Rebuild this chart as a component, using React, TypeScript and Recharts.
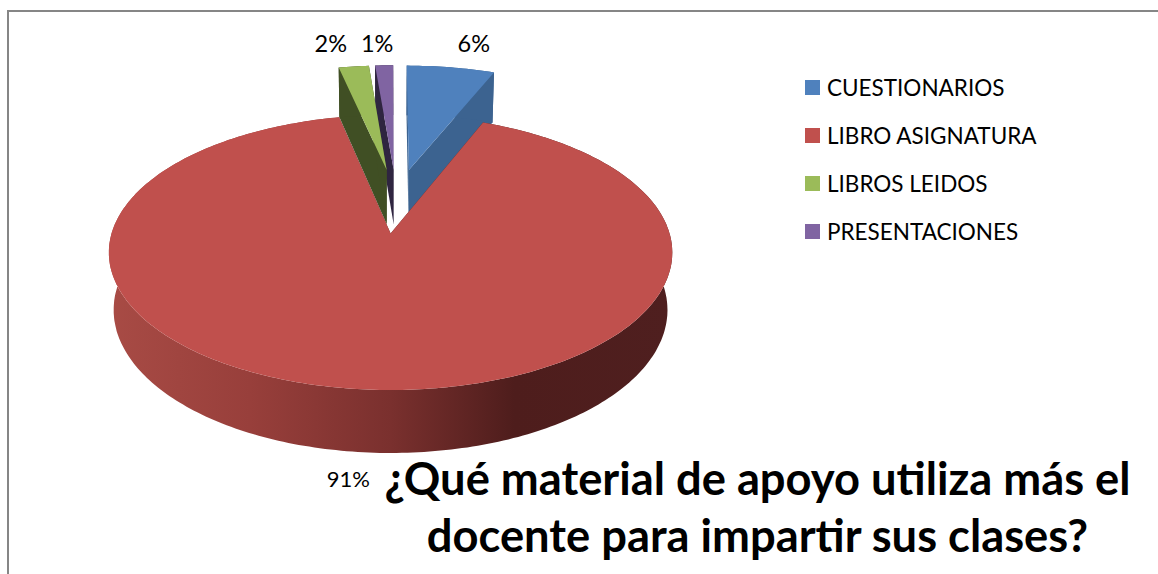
import React from 'react'
import { PieChart, Pie, Legend } from 'recharts'

const categories = ['CUESTIONARIOS', 'LIBRO ASIGNATURA', 'LIBROS LEIDOS', 'PRESENTACIONES']
const shares = [6.1, 90.55, 2.1, 1.25]
const topColors = ['#4f81bd', '#c0504d', '#9bbb59', '#8064a2']
const sideColors = ['#3c6390', 'url(#redWall)', '#404f24', '#2f2540']
const faceColors = ['#3c6390', '#4f1e1d', '#404f24', '#2f2540']
// back to front, so the big slice covers the walls of the pulled out ones
const paintOrder = [0, 3, 2, 1]
const labelOffsets = [
  [23, -24],
  [-15, 26],
  [-23, -23],
  [-7, -22],
]
const titleLines = ['¿Qué material de apoyo utiliza más el', 'docente para impartir sus clases?']

const rows = categories.map((name, i) => ({ name, value: shares[i], fill: topColors[i] }))

const FONT = 'Lato, Carlito, sans-serif'
const EXPLODE = 0.254
const ORIGIN_U = 0.0239
const ORIGIN_V = -0.253
const TILT = 0.4835
const PERSPECTIVE = 0.138
const DEPTH = 58
const DEPTH_SHRINK = 0.017

type Pt = [number, number]

function project(cx: number, cy: number, r: number, u: number, v: number, z = 0): Pt {
  const w = 1 - PERSPECTIVE * v + DEPTH_SHRINK * z
  return [cx + (r * u) / w, cy + (r * TILT * v + DEPTH * z) / w]
}

const toPath = (pts: Pt[]) =>
  'M' + pts.map((p) => `${p[0].toFixed(1)},${p[1].toFixed(1)}`).join('L') + 'Z'

// polar angle from recharts -> unit disc direction
const dir = (deg: number): Pt => [Math.cos((deg * Math.PI) / 180), -Math.sin((deg * Math.PI) / 180)]

function sliceCentre(midAngle: number): Pt {
  const d = dir(midAngle)
  return [ORIGIN_U + EXPLODE * d[0], ORIGIN_V + EXPLODE * d[1]]
}

function makeSlice(only: number) {
  return function Slice(props: any) {
    const { cx, cy, outerRadius, startAngle, endAngle, index } = props
    if (index !== only) return null
    const mid = (startAngle + endAngle) / 2
    const [cu, cv] = sliceCentre(mid)
    const rim: [number, number][] = []
    const steps = Math.max(4, Math.ceil(Math.abs(startAngle - endAngle)))
    for (let s = 0; s <= steps; s++) {
      const a = startAngle + ((endAngle - startAngle) * s) / steps
      const d = dir(a)
      rim.push([cu + d[0], cv + d[1]])
    }
    const p = (c: number[], z = 0) => project(cx, cy, outerRadius, c[0], c[1], z)
    const topRim = rim.map((c) => p(c))
    const lowRim = rim.map((c) => p(c, 1))
    const tip = p([cu, cv])
    const tipLow = p([cu, cv], 1)
    const first = rim[0]
    const last = rim[rim.length - 1]
    return (
      <g>
        <path d={toPath([tip, p(first), p(first, 1), tipLow])} fill={faceColors[index]} />
        <path d={toPath([tip, p(last), p(last, 1), tipLow])} fill={faceColors[index]} />
        <path d={toPath([...topRim, ...lowRim.reverse()])} fill={sideColors[index]} />
        <path d={toPath([tip, ...topRim])} fill={topColors[index]} />
      </g>
    )
  }
}

function renderLabel(props: any) {
  const { cx, cy, outerRadius, midAngle, percent, index } = props
  const [cu, cv] = sliceCentre(midAngle)
  const d = dir(midAngle)
  const z = index === 1 ? 1 : 0
  const [x, y] = project(cx, cy, outerRadius, cu + d[0], cv + d[1], z)
  return (
    <text
      key={index}
      x={x + labelOffsets[index][0]}
      y={y + labelOffsets[index][1]}
      textAnchor="middle"
      dominantBaseline="central"
      fontFamily={FONT}
      fontSize={index === 1 ? 22 : 23.5}
      fill="#000"
    >
      {`${Math.round(percent * 100)}%`}
    </text>
  )
}

// every Pie hands in its rows, keep one entry per category
function LegendList({ payload }: any) {
  const items = categories.map((name) => (payload || []).find((item: any) => item.value === name)).filter(Boolean)
  return (
    <div>
      {items.map((item: any) => (
        <div key={item.value} style={{ height: 48, display: 'flex', alignItems: 'center' }}>
          <span style={{ width: 15, height: 15, background: item.color, marginRight: 7 }} />
          <span style={{ fontFamily: FONT, fontSize: 22.5, color: '#000', whiteSpace: 'nowrap' }}>{item.value}</span>
        </div>
      ))}
    </div>
  )
}

export default function App() {
  return (
    <div style={{ position: 'absolute', left: 0, top: 0, width: 1158, height: 574, background: '#fff', overflow: 'hidden' }}>
      <div style={{ position: 'absolute', left: 7, top: 10, right: -4, bottom: -4, borderTop: '2px solid #868686', borderLeft: '2px solid #868686', boxSizing: 'border-box' }} />
      <PieChart width={1158} height={574} margin={{ top: 0, right: 0, bottom: 0, left: 0 }} style={{ position: 'absolute', left: 0, top: 0 }}>
        <defs>
          <linearGradient id="redWall" x1="0" y1="0" x2="1" y2="0">
            <stop offset="0" stopColor="#a84b45" />
            <stop offset="0.25" stopColor="#983f3b" />
            <stop offset="0.5" stopColor="#7a302e" />
            <stop offset="0.72" stopColor="#4e1d1c" />
            <stop offset="1" stopColor="#4f1f1f" />
          </linearGradient>
        </defs>
        {paintOrder.map((idx) => (
          <Pie
            key={idx}
            data={rows}
            dataKey="value"
            nameKey="name"
            cx={390}
            cy={233.5}
            outerRadius={279}
            startAngle={90}
            endAngle={-270}
            stroke="none"
            shape={makeSlice(idx)}
            label={idx === 1 ? renderLabel : false}
            labelLine={false}
            isAnimationActive={false}
          />
        ))}
        <Legend
          layout="vertical"
          align="right"
          verticalAlign="middle"
          content={<LegendList />}
          wrapperStyle={{ left: 805, top: 63, width: 320 }}
        />
        {titleLines.map((line, i) => (
          <text
            key={line}
            x={757.5}
            y={495 + i * 57}
            textAnchor="middle"
            fontFamily={FONT}
            fontWeight={700}
            fontSize={45.3}
            fill="#000"
          >
            {line}
          </text>
        ))}
      </PieChart>
    </div>
  )
}
